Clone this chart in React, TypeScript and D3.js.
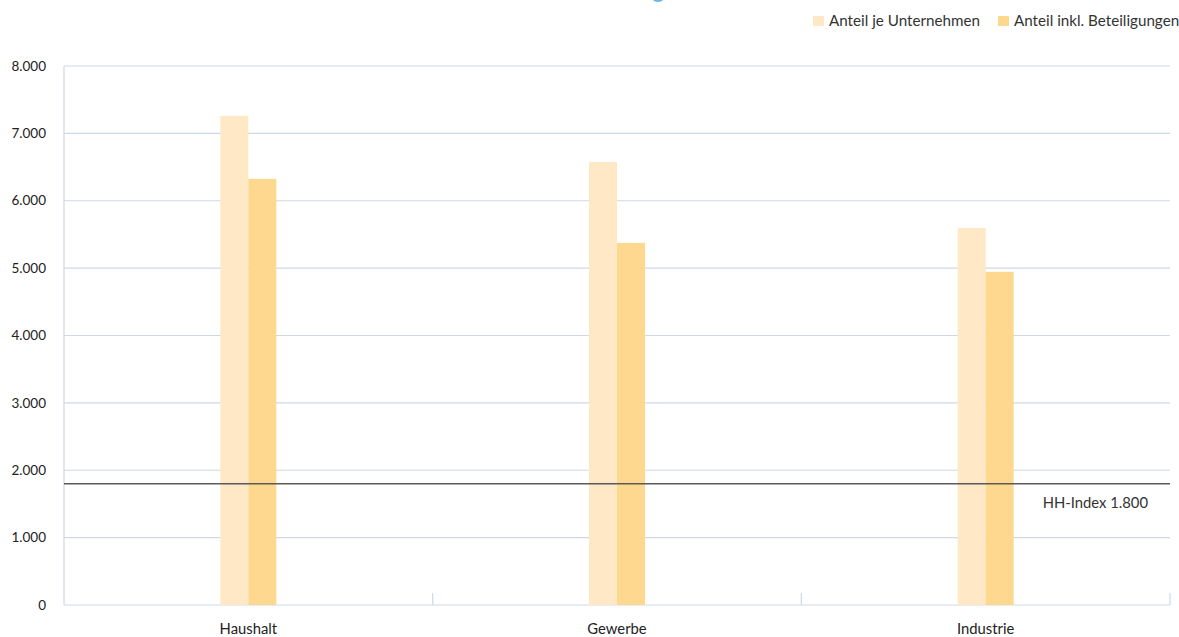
import React from "react";
import * as d3 from "d3";

// Herfindahl-Hirschman index per customer segment
const categories = ["Haushalt", "Gewerbe", "Industrie"];
const seriesNames = ["Anteil je Unternehmen", "Anteil inkl. Beteiligungen"];
const anteilJeUnternehmen = [7260, 6575, 5595];
const anteilInklBeteiligungen = [6325, 5375, 4945];
const yTicks = [0, 1000, 2000, 3000, 4000, 5000, 6000, 7000, 8000];
const hhIndex = 1800;
const hhLabel = "HH-Index 1.800";

const colors = ["#fee8c6", "#fdd88e"];
const gridColor = "#cfd9e6";
const font = "Lato, 'Open Sans', sans-serif";

const W = 1179;
const H = 637;
const margin = { left: 64, right: 9, top: 66, bottom: 32 };

const de = d3.formatLocale({ decimal: ",", thousands: ".", grouping: [3], currency: ["", " €"] });
const fmt = de.format(",d");

export default function App() {
  const x = d3
    .scaleBand<string>()
    .domain(categories)
    .range([margin.left, W - margin.right]);
  const y = d3
    .scaleLinear()
    .domain([0, 8000])
    .range([H - margin.bottom, margin.top]);
  const barW = 28;
  const series = [anteilJeUnternehmen, anteilInklBeteiligungen];
  const y0 = y(0);

  return (
    <svg
      width={W}
      height={H}
      style={{ position: "absolute", left: 0, top: 0, background: "#fff" }}
      fontFamily={font}
    >
      {/* decorative dot peeking in at the top edge */}
      <circle cx={658} cy={-6} r={8} fill="#6cb6e4" />

      {/* gridlines */}
      {yTicks.map((t) => (
        <line
          key={t}
          x1={margin.left}
          x2={W - margin.right}
          y1={y(t)}
          y2={y(t)}
          stroke={gridColor}
          strokeWidth={1.2}
        />
      ))}
      {/* y axis line */}
      <line x1={margin.left} x2={margin.left} y1={y(8000)} y2={y0} stroke={gridColor} strokeWidth={1.2} />
      {/* y tick labels */}
      {yTicks.map((t) => (
        <text
          key={"l" + t}
          x={46}
          y={y(t)}
          dy="0.35em"
          textAnchor="end"
          fontSize={13.5}
          fill="#222"
        >
          {fmt(t)}
        </text>
      ))}

      {/* category separators on the baseline */}
      {categories.map((c) => (
        <line
          key={"s" + c}
          x1={(x(c) ?? 0) + x.bandwidth()}
          x2={(x(c) ?? 0) + x.bandwidth()}
          y1={y0 - 12}
          y2={y0}
          stroke={gridColor}
          strokeWidth={1.2}
        />
      ))}

      {/* bars */}
      {categories.map((c, i) => {
        const cx = (x(c) ?? 0) + x.bandwidth() / 2;
        return series.map((s, j) => (
          <rect
            key={c + j}
            x={cx - barW + j * barW}
            y={y(s[i])}
            width={barW}
            height={y0 - y(s[i])}
            fill={colors[j]}
          />
        ));
      })}

      {/* category labels */}
      {categories.map((c) => (
        <text
          key={"c" + c}
          x={(x(c) ?? 0) + x.bandwidth() / 2}
          y={634}
          textAnchor="middle"
          fontSize={14.8}
          fill="#222"
        >
          {c}
        </text>
      ))}

      {/* HH-index reference line */}
      <line
        x1={margin.left}
        x2={W - margin.right}
        y1={y(hhIndex)}
        y2={y(hhIndex)}
        stroke="#5a5a5a"
        strokeWidth={1.6}
      />
      <text x={1148} y={y(hhIndex) + 24} textAnchor="end" fontSize={14.8} fill="#333">
        {hhLabel}
      </text>

      {/* legend */}
      {seriesNames.map((n, j) => {
        const lx = [813, 998][j];
        return (
          <g key={n}>
            <rect x={lx} y={16} width={11} height={10} fill={colors[j]} />
            <text x={lx + 16} y={21} dy="0.35em" fontSize={15.2} fill="#333">
              {n}
            </text>
          </g>
        );
      })}
    </svg>
  );
}
